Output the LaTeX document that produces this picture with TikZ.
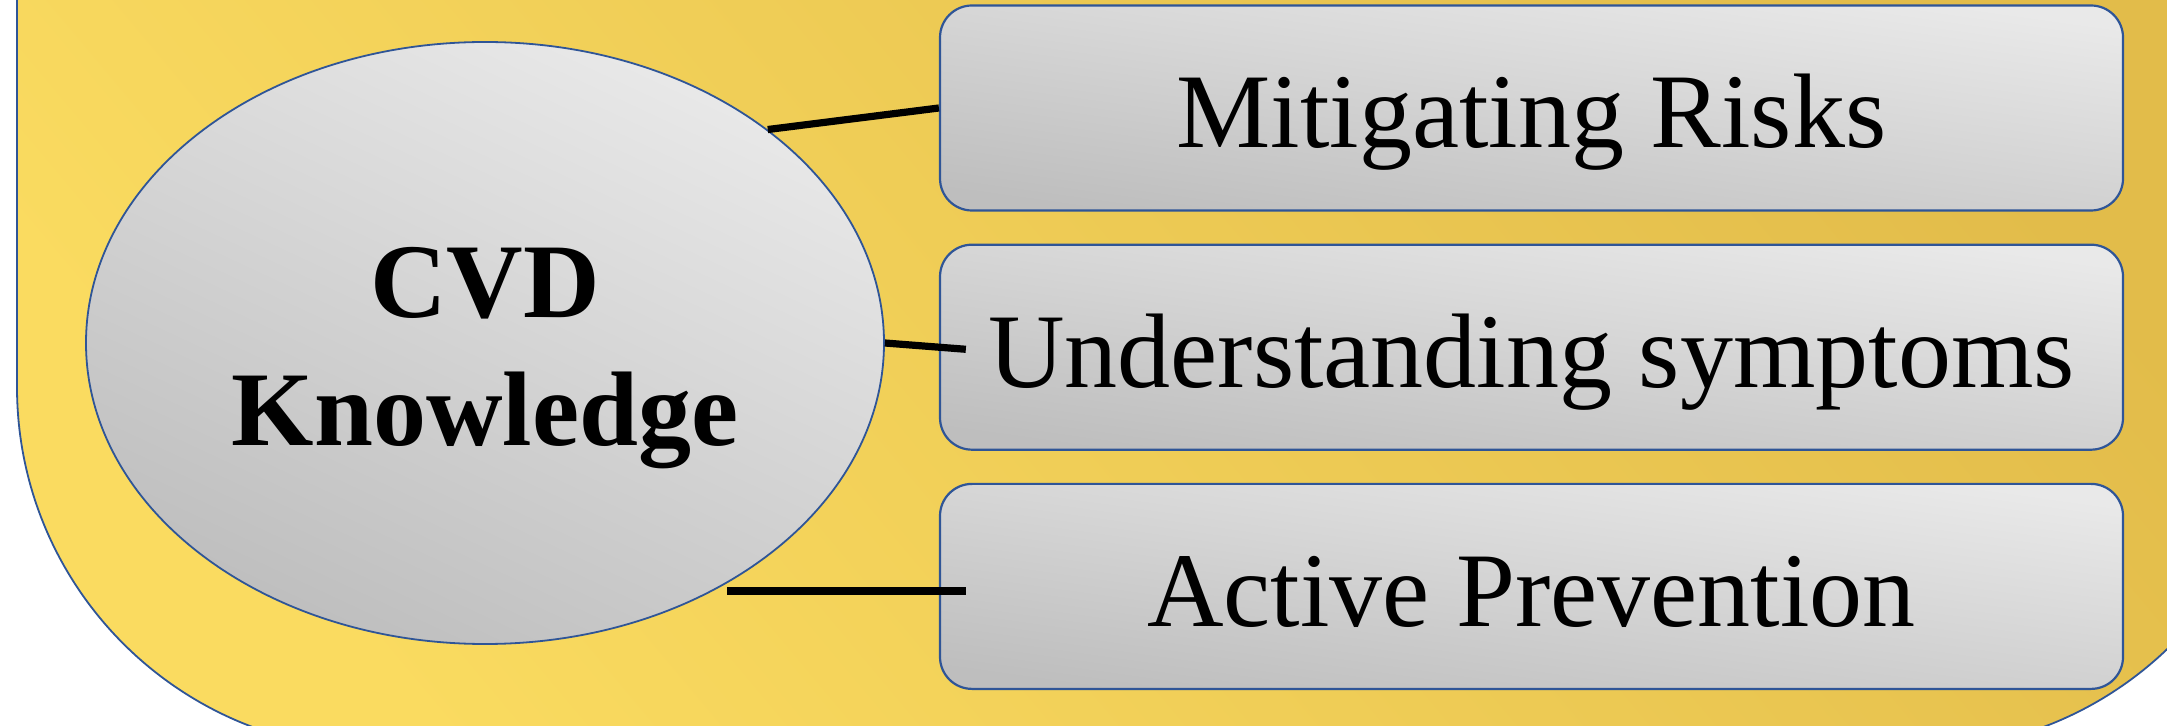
\documentclass[tikz,border=0pt]{standalone}
\usepackage{fontspec}
\setmainfont{Liberation Serif}
\usetikzlibrary{shapes.geometric, positioning}

\definecolor{frameblue}{RGB}{47,85,151}
\definecolor{goldlight}{RGB}{250,219,96}
\definecolor{golddark}{RGB}{226,188,74}
\definecolor{greylight}{RGB}{233,233,233}
\definecolor{greydark}{RGB}{190,190,190}

\tikzset{
  topic/.style={draw=frameblue, line width=1.1pt, rounded corners=16pt,
    top color=greylight, bottom color=greydark, shading angle=-8,
    minimum width=591.5pt, minimum height=102.5pt, inner sep=0pt,
    text height=50pt, text depth=10pt, font=\fontsize{53}{64}\selectfont},
  hub/.style={ellipse, draw=frameblue, line width=0.9pt,
    top color=greylight, bottom color=greydark, shading angle=-25,
    minimum width=399pt, minimum height=301pt, inner sep=0pt},
  link/.style={line width=3.6pt, black}
}

\begin{document}
\begin{tikzpicture}[x=0.5pt, y=-0.5pt, node distance=16pt]
  \useasboundingbox (0,0) rectangle (2167,726);
  \clip (0,0) rectangle (2167,726);

  % background panel
  \draw[draw=frameblue, line width=0.9pt, top color=golddark, bottom color=goldlight,
    shading angle=-50, rounded corners=181.5pt]
    (17,-20) -- (17,750) -- (2279,750) -- (2279,-20);

  \node[hub] (cvd) at (485,343) {};
  \node[font=\bfseries\fontsize{53}{64}\selectfont, align=center] (cvdtext)
    at ([yshift=-7.5pt]cvd.center) {CVD\\Knowledge};

  \node[topic] (mit) at (1531.5,108) {Mitigating Risks};
  \node[topic, below=of mit] (und) {Understanding symptoms};
  \node[topic, below=of und] (act) {Active Prevention};

  \coordinate (actfoot) at (727,591);
  \draw[link] (cvd.north east) -- (mit.west);
  \draw[link, shorten >=-13.5pt] (cvd.east) -- (und.west);
  \draw[link, shorten >=-13.5pt] (actfoot) -- (actfoot -| act.west);
\end{tikzpicture}
\end{document}
